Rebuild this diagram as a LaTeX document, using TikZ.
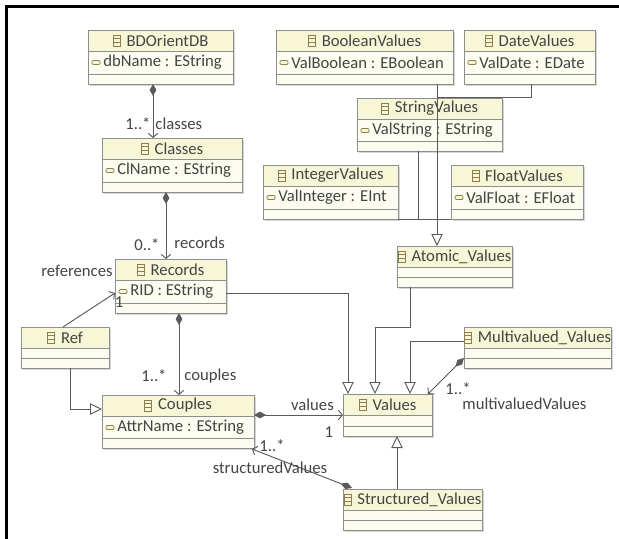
\documentclass[tikz,border=0pt]{standalone}
\usepackage{fontspec}
\setmainfont{Carlito}
\usetikzlibrary{arrows.meta,calc}

\definecolor{hdrc}{HTML}{F7F7D7}
\definecolor{bodyc}{HTML}{FCFCF0}
\definecolor{linec}{HTML}{8E8E8E}
\definecolor{txtc}{HTML}{444444}
\definecolor{iconc}{HTML}{8F7D4E}
\definecolor{shadc}{HTML}{D6D6D6}
\definecolor{connc}{HTML}{5A5A5A}

\newcommand{\umlfont}{\fontsize{12.5pt}{14pt}\selectfont}

% class box: name, left, top, right, bottom, title, attribute
\newcommand{\classbox}[7]{%
  \fill[shadc] (#2+2,#3+2) rectangle (#4+2,#5+2);
  \node[boxnode, anchor=north west, minimum width={(#4-#2)*0.75pt}, minimum height={(#5-#3)*0.75pt}] (#1) at (#2,#3) {};
  \fill[hdrc] (#2,#3) rectangle (#4,#3+21);
  \draw[linec] (#2,#3+21) -- (#4,#3+21);
  \draw[linec] (#2,#5-10) -- (#4,#5-10);
  \draw[linec] (#1.north west) rectangle (#1.south east);
  \node[ctitle] (#1-t) at ({(#2+#4)/2+7},#3+10.5) {#6};
  \draw[clsicon] ($(#1-t.west)+(-13,-5.5)$) rectangle ($(#1-t.west)+(-6,5.5)$);
  \draw[clsicon] ($(#1-t.west)+(-13,-1.8)$) -- ($(#1-t.west)+(-6,-1.8)$)
                 ($(#1-t.west)+(-13,1.8)$) -- ($(#1-t.west)+(-6,1.8)$);
  \if\relax\detokenize{#7}\relax\else
    \node[cattr] (#1-a) at (#2+15,#3+32.5) {#7};
    \draw[atticon] (#2+4,#3+30.5) rectangle (#2+12,#3+34.5);
  \fi
}

\tikzset{
  boxnode/.style={fill=bodyc, inner sep=0pt, outer sep=0pt},
  ctitle/.style={font=\umlfont, text=txtc, inner sep=0pt},
  cattr/.style={font=\umlfont, text=txtc, inner sep=0pt, anchor=west},
  clsicon/.style={draw=iconc, line width=0.6pt},
  atticon/.style={draw=iconc, fill=hdrc, line width=0.6pt, rounded corners=0.8pt},
  lbl/.style={font=\umlfont, text=txtc, inner sep=0pt},
  comp/.style={draw=connc, line width=0.7pt, {Diamond[length=9pt,width=5pt,fill=connc]}-{Straight Barb[length=3pt,width=7pt]}},
  assoc/.style={draw=connc, line width=0.7pt, -{Straight Barb[length=3pt,width=7pt]}},
  gen/.style={draw=connc, line width=0.7pt, -{Triangle[open,length=9pt,width=8.5pt,fill=white]}},
}

\begin{document}
\begin{tikzpicture}[x=0.75pt,y=-0.75pt]
\useasboundingbox (0,0) rectangle (619,539);
\fill[white] (0,0) rectangle (619,539);
\draw[line width=2.3pt, line join=miter] (6.5,539) -- (6.5,6.5) -- (619,6.5);

% classes
\classbox{bd}{88}{30}{233}{84}{BDOrientDB}{dbName : EString}
\classbox{bool}{276}{30}{453}{84}{BooleanValues}{ValBoolean : EBoolean}
\classbox{date}{464}{30}{595}{84}{DateValues}{ValDate : EDate}
\classbox{str}{357}{98}{502}{151}{StringValues}{ValString : EString}
\classbox{cl}{102}{138}{242}{192}{Classes}{ClName : EString}
\classbox{int}{263}{165}{398}{219}{IntegerValues}{ValInteger : EInt}
\classbox{flt}{451}{165}{583}{219}{FloatValues}{ValFloat : EFloat}
\classbox{at}{397}{246}{512}{287}{Atomic\_Values}{}
\classbox{rec}{115}{259}{226}{313}{Records}{RID : EString}
\classbox{ref}{21}{327}{109}{368}{Ref}{}
\classbox{mv}{464}{327}{611}{368}{Multivalued\_Values}{}
\classbox{cp}{102}{395}{254}{448}{Couples}{AttrName : EString}
\classbox{val}{343}{394}{432}{436}{Values}{}
\classbox{sv}{343}{489}{482}{530}{Structured\_Values}{}

% containments
\draw[comp] ($(bd.south)+(-7.5,0)$) -- node[lbl, pos=0.74, anchor=east, shift={(-2,0)}] {1..*} node[lbl, pos=0.74, anchor=west, shift={(2,0)}] {classes} ($(cl.north)+(-19,0)$);
\draw[comp] ($(cl.south)+(-6,0)$) -- node[lbl, pos=0.79, anchor=east, shift={(-6,0)}] {0..*} node[lbl, pos=0.76, anchor=west, shift={(8,0)}] {records} ($(rec.north)+(-4.5,0)$);
\draw[comp] ($(rec.south)+(8.5,0)$) -- node[lbl, pos=0.77, anchor=east, shift={(-12,0)}] {1..*} node[lbl, pos=0.77, anchor=west, shift={(5,0)}] {couples} ($(cp.north)+(1,0)$);
\draw[comp] ($(cp.east)+(0,-6.5)$) -- node[lbl, pos=0.657, shift={(0,-10)}] {values} node[lbl, pos=0.84, shift={(0,17)}] {1} (val.west);
\draw[comp] ($(mv.west)+(0,10.5)$) -- node[lbl, pos=1, shift={(30,-5)}] {1..*} node[lbl, pos=1, anchor=west, shift={(34,10)}] {multivaluedValues} ($(val.north east)+(-4,0)$);
\draw[comp] ($(sv.north west)+(9,-1)$) -- node[lbl, pos=1, shift={(20,-3)}] {1..*} node[lbl, pos=1, shift={(18,19)}] {structuredValues} ($(cp.south east)+(-2,1)$);
\draw[assoc] ($(ref.north)+(-2,0)$) -- node[lbl, pos=1, anchor=east, shift={(-2,-22)}] {references} node[lbl, pos=1, shift={(4,9)}] {1} ($(rec.west)+(0,7)$);

% generalizations
\draw[gen] ($(ref.south)+(5,0)$) |- ($(cp.west)+(0,-12.5)$);
\draw[gen] ($(rec.east)+(0,7)$) -| ($(val.north)+(-39.5,0)$);
\draw[gen] ($(at.south)+(-44.5,0)$) -- ++(0,40) -| ($(val.north)+(-12.5,0)$);
\draw[gen] ($(mv.west)+(0,-6.5)$) -| ($(val.north)+(22.5,0)$);
\draw[gen] ($(sv.north)+(-15.5,0)$) -- ($(val.south)+(9.5,0)$);

% atomic kinds
\coordinate (junc) at ($(at.north)+(-17.5,-27)$);
\draw[gen] ($(bool.south)+(72.5,0)$) -- ($(at.north)+(-17.5,0)$);
\draw[connc, line width=0.7pt] ($(date.south)+(1.5,0)$) |- ($(bool.south)+(72.5,13)$);
\draw[connc, line width=0.7pt] ($(str.south)+(-11.5,0)$) |- (junc);
\draw[connc, line width=0.7pt] (int.south east) -- (junc);
\draw[connc, line width=0.7pt] (flt.south west) -- (junc);
\end{tikzpicture}
\end{document}
